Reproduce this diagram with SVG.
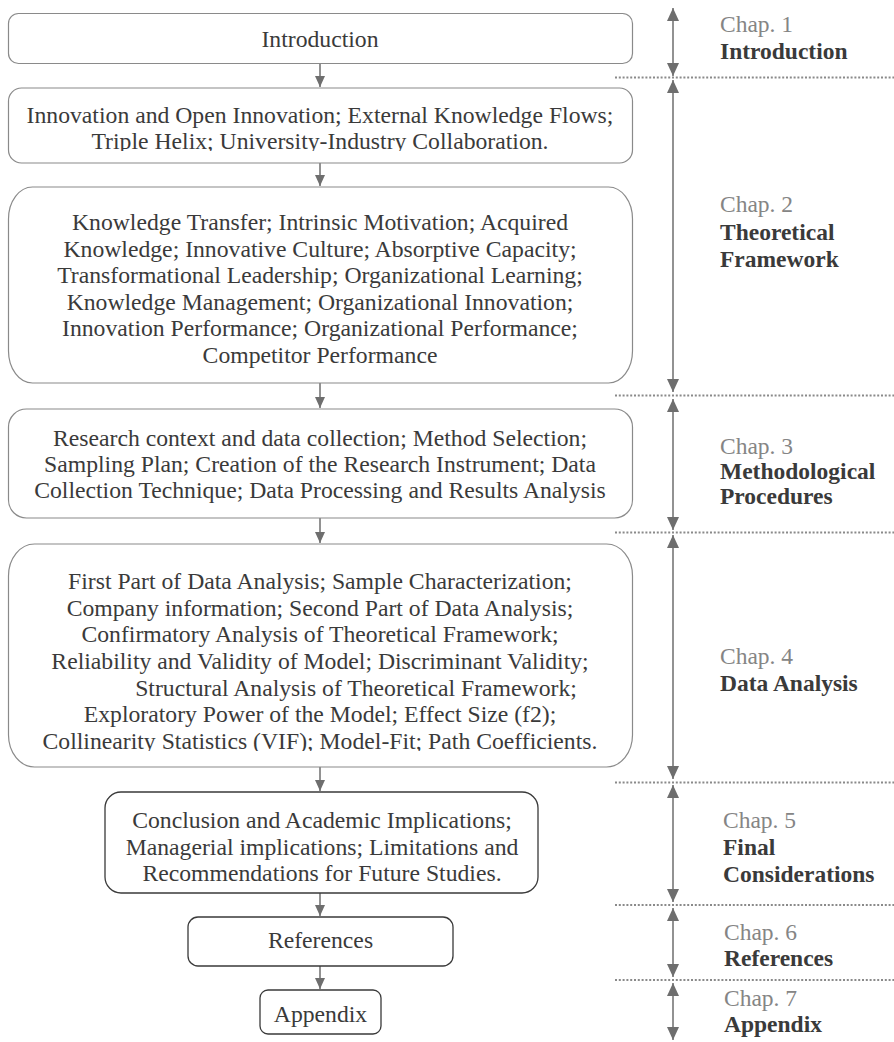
<svg xmlns="http://www.w3.org/2000/svg" width="894" height="1042" viewBox="0 0 894 1042">
<style>
.box{fill:#fff;stroke:#8a8a8a;stroke-width:1.2}
.boxd{fill:#fff;stroke:#3a3a3a;stroke-width:1.3}
.t{font-family:"Liberation Serif","Times New Roman",serif;font-size:23.7px;fill:#3a3a3a;text-anchor:middle}
.ch{font-family:"Liberation Serif","Times New Roman",serif;font-size:23.5px;fill:#858585}
.cb{font-family:"Liberation Serif","Times New Roman",serif;font-size:23.5px;font-weight:bold;fill:#3a3a3a}
.fl{stroke:#6e6e6e;stroke-width:1.5;fill:none;marker-end:url(#ah)}
.dl{stroke:#6e6e6e;stroke-width:1.5;fill:none;marker-start:url(#ah2);marker-end:url(#ah2)}
.dot{stroke:#8a8a8a;stroke-width:2;stroke-dasharray:2 1.8;fill:none}
</style>
<defs>
<marker id="ah" viewBox="0 0 11 10" refX="11" refY="5" markerWidth="11" markerHeight="10" markerUnits="userSpaceOnUse" orient="auto"><path d="M0,0 L11,5 L0,10 z" fill="#6e6e6e"/></marker>
<marker id="ah2" viewBox="0 0 13 12" refX="13" refY="6" markerWidth="13" markerHeight="12" markerUnits="userSpaceOnUse" orient="auto-start-reverse"><path d="M0,0 L13,6 L0,12 z" fill="#6e6e6e"/></marker>
<clipPath id="c2"><rect x="0" y="80" width="640" height="71"/></clipPath>
<clipPath id="c5"><rect x="0" y="540" width="640" height="211"/></clipPath>
</defs>

<g id="connectors">
<line class="fl" x1="320" y1="63.5" x2="320" y2="87"/>
<line class="fl" x1="320" y1="163" x2="320" y2="186"/>
<line class="fl" x1="320" y1="383" x2="320" y2="408"/>
<line class="fl" x1="320" y1="518" x2="320" y2="543"/>
<line class="fl" x1="320" y1="767" x2="320" y2="791"/>
<line class="fl" x1="320" y1="893" x2="320" y2="916"/>
<line class="fl" x1="320" y1="966" x2="320" y2="989"/>
</g>

<g id="node-introduction">
<rect class="box" x="8.5" y="13.5" width="624" height="50" rx="10" ry="10"/>
<text class="t" x="320" y="47">Introduction</text>
</g>
<g id="node-innovation">
<rect class="box" x="8.5" y="88" width="624" height="75" rx="13" ry="13"/>
<text class="t" x="320" y="123">Innovation and Open Innovation; External Knowledge Flows;</text>
<text class="t" x="320" y="149" clip-path="url(#c2)">Triple Helix; University-Industry Collaboration.</text>
</g>
<g id="node-knowledge">
<rect class="box" x="8.5" y="187" width="624" height="196" rx="24" ry="32"/>
<text class="t" x="320" y="230">Knowledge Transfer; Intrinsic Motivation; Acquired</text>
<text class="t" x="320" y="257">Knowledge; Innovative Culture; Absorptive Capacity;</text>
<text class="t" x="320" y="283">Transformational Leadership; Organizational Learning;</text>
<text class="t" x="320" y="310">Knowledge Management; Organizational Innovation;</text>
<text class="t" x="320" y="336">Innovation Performance; Organizational Performance;</text>
<text class="t" x="320" y="363">Competitor Performance</text>
</g>
<g id="node-research">
<rect class="box" x="8.5" y="409" width="624" height="109" rx="18" ry="18"/>
<text class="t" x="320" y="446">Research context and data collection; Method Selection;</text>
<text class="t" x="320" y="472">Sampling Plan; Creation of the Research Instrument; Data</text>
<text class="t" x="320" y="498">Collection Technique; Data Processing and Results Analysis</text>
</g>
<g id="node-data">
<rect class="box" x="8.5" y="544" width="624" height="223" rx="26" ry="32"/>
<text class="t" x="320" y="589">First Part of Data Analysis; Sample Characterization;</text>
<text class="t" x="320" y="616">Company information; Second Part of Data Analysis;</text>
<text class="t" x="320" y="642">Confirmatory Analysis of Theoretical Framework;</text>
<text class="t" x="320" y="669">Reliability and Validity of Model; Discriminant Validity;</text>
<text class="t" x="356" y="696">Structural Analysis of Theoretical Framework;</text>
<text class="t" x="320" y="722">Exploratory Power of the Model; Effect Size (f2);</text>
<text class="t" x="320" y="749" clip-path="url(#c5)">Collinearity Statistics (VIF); Model-Fit; Path Coefficients.</text>
</g>
<g id="node-conclusion">
<rect class="boxd" x="105" y="792" width="433" height="101" rx="16" ry="16"/>
<text class="t" x="322" y="828">Conclusion and Academic Implications;</text>
<text class="t" x="322" y="855">Managerial implications; Limitations and</text>
<text class="t" x="322" y="881">Recommendations for Future Studies.</text>
</g>
<g id="node-references">
<rect class="boxd" x="188" y="917" width="265" height="49" rx="10" ry="10"/>
<text class="t" x="320.5" y="948">References</text>
</g>
<g id="node-appendix">
<rect class="boxd" x="260" y="990" width="121" height="44" rx="8" ry="8"/>
<text class="t" x="320.5" y="1022">Appendix</text>
</g>

<g id="chapter-ranges">
<line class="dl" x1="673" y1="8" x2="673" y2="76"/>
<line class="dl" x1="673" y1="80" x2="673" y2="392"/>
<line class="dl" x1="673" y1="399" x2="673" y2="530"/>
<line class="dl" x1="673" y1="535" x2="673" y2="779"/>
<line class="dl" x1="673" y1="785" x2="673" y2="902"/>
<line class="dl" x1="673" y1="908" x2="673" y2="977"/>
<line class="dl" x1="673" y1="983" x2="673" y2="1040"/>
<line class="dot" x1="615" y1="77.5" x2="894" y2="77.5"/>
<line class="dot" x1="615" y1="395.5" x2="894" y2="395.5"/>
<line class="dot" x1="615" y1="532.5" x2="894" y2="532.5"/>
<line class="dot" x1="615" y1="782.5" x2="894" y2="782.5"/>
<line class="dot" x1="615" y1="905" x2="894" y2="905"/>
<line class="dot" x1="615" y1="980" x2="894" y2="980"/>
</g>

<g id="chap1"><text class="ch" x="720" y="32">Chap. 1</text><text class="cb" x="720" y="59">Introduction</text></g>
<g id="chap2"><text class="ch" x="720" y="212">Chap. 2</text><text class="cb" x="720" y="240">Theoretical</text><text class="cb" x="720" y="267">Framework</text></g>
<g id="chap3"><text class="ch" x="720" y="454">Chap. 3</text><text class="cb" x="720" y="479">Methodological</text><text class="cb" x="720" y="504">Procedures</text></g>
<g id="chap4"><text class="ch" x="720" y="664">Chap. 4</text><text class="cb" x="720" y="691">Data Analysis</text></g>
<g id="chap5"><text class="ch" x="723" y="828">Chap. 5</text><text class="cb" x="723" y="855">Final</text><text class="cb" x="723" y="882">Considerations</text></g>
<g id="chap6"><text class="ch" x="724" y="940">Chap. 6</text><text class="cb" x="724" y="966">References</text></g>
<g id="chap7"><text class="ch" x="724" y="1006">Chap. 7</text><text class="cb" x="724" y="1032">Appendix</text></g>
</svg>
